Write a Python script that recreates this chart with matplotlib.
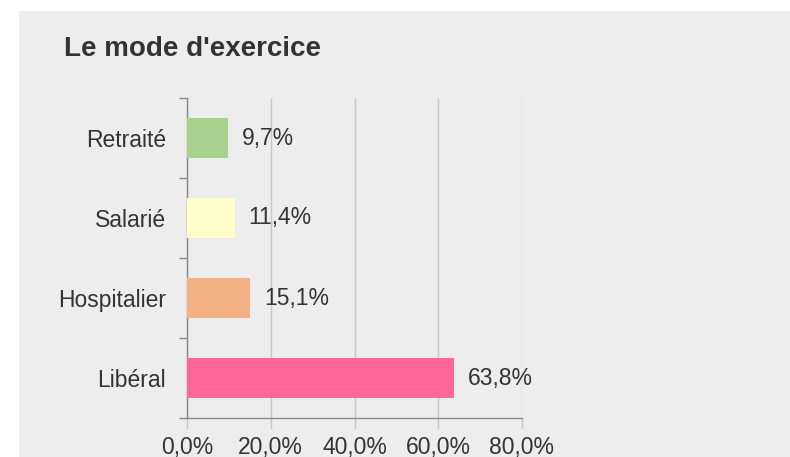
import matplotlib.pyplot as plt
from matplotlib.patches import Rectangle
from matplotlib.ticker import FixedLocator, FuncFormatter

categories = ["Libéral", "Hospitalier", "Salarié", "Retraité"]
values = [63.8, 15.1, 11.4, 9.7]
colors = ["#ff6699", "#f4b183", "#ffffcc", "#a9d18e"]
xticks = [0, 20, 40, 60, 80]

plt.rcParams['font.family'] = ['Liberation Sans', 'DejaVu Sans']
text_color = "#333333"
bg = "#ededed"

fig = plt.figure(figsize=(7.9, 4.57), dpi=100)
fig.patch.set_facecolor("white")
fig.patches.append(Rectangle((19 / 790, 0), 1 - 19 / 790, 1 - 11 / 457,
                             transform=fig.transFigure, facecolor=bg,
                             edgecolor="none", zorder=-10))

ax = fig.add_axes([187 / 790, 1 - 418 / 457, 335 / 790, 320 / 457])
ax.set_zorder(1)
ax.set_facecolor(bg)

y = range(len(categories))
ax.barh(y, values, height=0.5, color=colors, zorder=3)
for yi, v in zip(y, values):
    ax.text(v + 3.3, yi, f"{v:.1f}%".replace(".", ","), va="center", ha="left",
            fontsize=16.5, color=text_color)

ax.set_xlim(0, 80)
ax.set_ylim(-0.5, len(categories) - 0.5)
ax.set_xticks(xticks)
ax.xaxis.set_major_formatter(FuncFormatter(lambda x, p: f"{x:.1f}%".replace(".", ",")))
ax.set_yticks(list(y))
ax.set_yticklabels(categories)
ax.yaxis.set_minor_locator(FixedLocator([i - 0.5 for i in range(len(categories) + 1)]))
ax.tick_params(axis="y", which="major", length=0, pad=15, labelsize=16.5, labelcolor=text_color)
ax.tick_params(axis="y", which="minor", length=6, color="#888888", width=1)
ax.tick_params(axis="x", length=8, color="#c8c8c8", width=1, pad=5,
               labelsize=16.5, labelcolor=text_color)
ax.grid(axis="x", color="#c8c8c8", linewidth=1, zorder=0)

for s in ["top", "right"]:
    ax.spines[s].set_visible(False)
for s in ["left", "bottom"]:
    ax.spines[s].set_color("#888888")
    ax.spines[s].set_linewidth(1)

fig.text(64 / 790, 1 - 49 / 457, "Le mode d'exercice", fontsize=20, fontweight="bold",
         color=text_color, va="center", ha="left")

fig.savefig("out.png", dpi=100, facecolor=fig.get_facecolor())
